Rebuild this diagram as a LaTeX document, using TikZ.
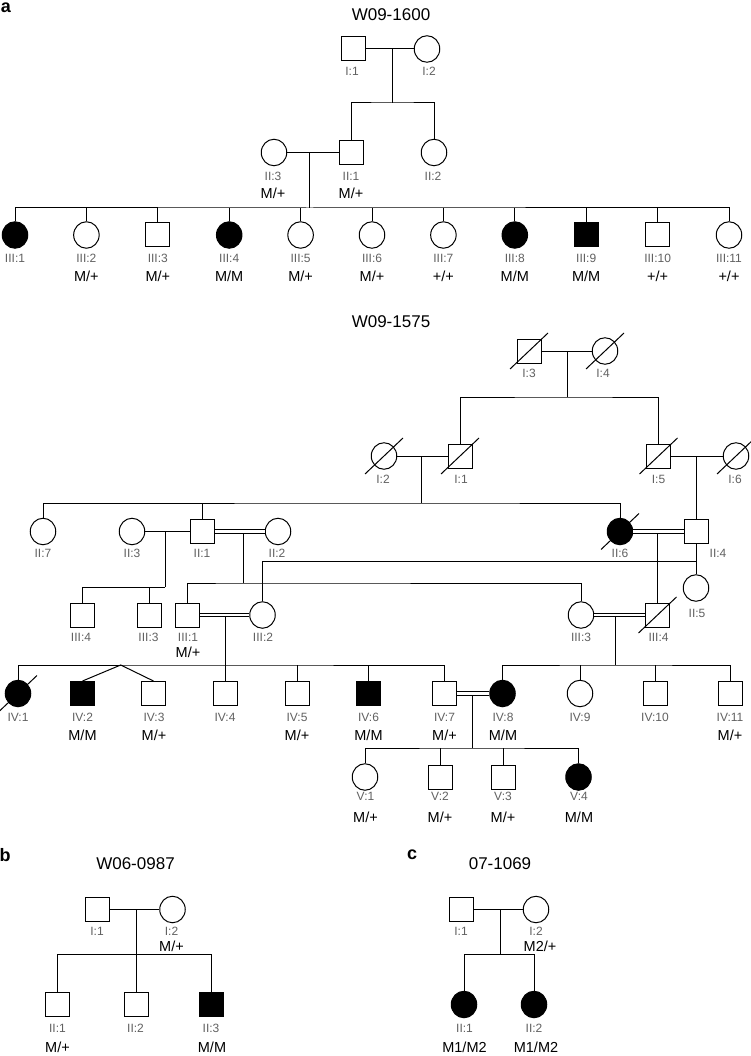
\documentclass[tikz,border=0pt]{standalone}
\usepackage{fontspec}
\setmainfont{Liberation Sans}
\usetikzlibrary{shapes.geometric}
\begin{document}
\begin{tikzpicture}[x=1pt,y=-1pt,
  every node/.style={inner sep=0pt},
  male/.style={draw, line width=1pt, minimum width=24pt, minimum height=24pt},
  female/.style={draw, line width=1pt, ellipse, minimum width=25.5pt, minimum height=26.5pt},
  aff/.style={fill=black},
  lbl/.style={font=\fontsize{12}{13}\selectfont, text=black!62, text height=8.6pt, text depth=0pt},
  geno/.style={font=\fontsize{14.5}{16}\selectfont, text height=10.4pt, text depth=0pt},
  ttl/.style={font=\fontsize{17}{20}\selectfont, text height=12.2pt, text depth=0pt},
  panel/.style={font=\fontsize{18}{20}\selectfont\bfseries},
  ln/.style={line width=1pt},
  cons/.style={double, double distance=2.9pt, line width=0.95pt}
]
\fill[white] (0,0) rectangle (751,1056);
\useasboundingbox (0,0) rectangle (751,1056);

% ================= Pedigree a : W09-1600 =================
\node[panel] (pa) at (6,8) {a};
\node[ttl] (ta) at (391,14) {W09-1600};
\node[male] (a-I1) at (353,49) {};
\node[female] (a-I2) at (427,49) {};
\node[lbl] (la-I1) at (352,71) {I:1};
\node[lbl] (la-I2) at (429,71) {I:2};
\node[female] (a-II3) at (274,152.5) {};
\node[male] (a-II1) at (351,152.5) {};
\node[female] (a-II2) at (434,152.5) {};
\node[lbl] (la-II3) at (273,176) {II:3};
\node[lbl] (la-II1) at (351,176) {II:1};
\node[lbl] (la-II2) at (433,176) {II:2};
\node[geno] (ga-II3) at (273,193) {M/+};
\node[geno] (ga-II1) at (351,193) {M/+};

\node[female,aff] (a-III1) at (15,235) {};
\node[female] (a-III2) at (86.4,235) {};
\node[male] (a-III3) at (157.8,235) {};
\node[female,aff] (a-III4) at (229.2,235) {};
\node[female] (a-III5) at (300.6,235) {};
\node[female] (a-III6) at (372,235) {};
\node[female] (a-III7) at (443.4,235) {};
\node[female,aff] (a-III8) at (514.8,235) {};
\node[male,aff] (a-III9) at (586.2,235) {};
\node[male] (a-III10) at (657.6,235) {};
\node[female] (a-III11) at (729,235) {};
\foreach \i/\x/\g in {1/15/{},2/86.4/{M/+},3/157.8/{M/+},4/229.2/{M/M},5/300.6/{M/+},6/372/{M/+},7/443.4/{+/+},8/514.8/{M/M},9/586.2/{M/M},10/657.6/{+/+},11/729/{+/+}}{
  \node[lbl] (la-III\i) at (\x,258) {III:\i};
  \node[geno] (ga-III\i) at (\x,276) {\g};
}

\draw[ln] (a-I1) -- (a-I2);
\coordinate (a-m1) at (392,49);
\coordinate (a-s1) at (392,103);
\draw[ln] (a-m1) -- (a-s1);
\draw[ln] (a-II1.north) |- (a-s1) -| (a-II2.north);
\draw[ln] (a-II3) -- (a-II1);
\coordinate (a-m2) at (309,152.5);
\coordinate (a-s2) at (309,208);
\draw[ln] (a-m2) -- (a-s2);
\draw[ln] (a-III1.north) |- (a-s2) -| (a-III11.north);
\foreach \i in {2,...,10}{\draw[ln] (a-III\i.north) -- (a-III\i.north |- a-s2);}

% ================= Pedigree W09-1575 =================
\node[ttl] (tq) at (391,321) {W09-1575};
\node[male] (q-I3) at (529,351) {};
\node[female] (q-I4) at (605,351) {};
\node[lbl] (lq-I3) at (529,373) {I:3};
\node[lbl] (lq-I4) at (603,373) {I:4};
\node[female] (q-I2) at (384,456) {};
\node[male] (q-I1) at (460,456) {};
\node[male] (q-I5) at (658.5,456) {};
\node[female] (q-I6) at (736,456) {};
\node[lbl] (lq-I2) at (383,479) {I:2};
\node[lbl] (lq-I1) at (461,479) {I:1};
\node[lbl] (lq-I5) at (658.5,479) {I:5};
\node[lbl] (lq-I6) at (735,479) {I:6};

\node[female] (q-II7) at (43,531.5) {};
\node[female] (q-II3) at (132,531.5) {};
\node[male] (q-II1) at (202,531.5) {};
\node[female] (q-II2) at (278,531.5) {};
\node[female,aff] (q-II6) at (620,531.5) {};
\node[male] (q-II4) at (696,531.5) {};
\node[female] (q-II5) at (696,588) {};
\node[lbl] (lq-II7) at (43,553) {II:7};
\node[lbl] (lq-II3) at (132,553) {II:3};
\node[lbl] (lq-II1) at (202,553) {II:1};
\node[lbl] (lq-II2) at (277,553) {II:2};
\node[lbl] (lq-II6) at (620,553) {II:6};
\node[lbl] (lq-II4) at (718,553) {II:4};
\node[lbl] (lq-II5) at (697,613) {II:5};

\node[male] (q-III4a) at (82,615) {};
\node[male] (q-III3a) at (149,615) {};
\node[male] (q-III1) at (187.5,615) {};
\node[female] (q-III2) at (262.5,615) {};
\node[female] (q-III3b) at (581,615) {};
\node[male] (q-III4b) at (657.5,615) {};
\node[lbl] (lq-III4a) at (81,637) {III:4};
\node[lbl] (lq-III3a) at (148.5,637) {III:3};
\node[lbl] (lq-III1) at (188,637) {III:1};
\node[lbl] (lq-III2) at (263,637) {III:2};
\node[lbl] (lq-III3b) at (581,637) {III:3};
\node[lbl] (lq-III4b) at (658.5,637) {III:4};
\node[geno] (gq-III1) at (188,652) {M/+};

\node[female,aff] (q-IV1) at (18,693.5) {};
\node[male,aff] (q-IV2) at (82.5,693.5) {};
\node[male] (q-IV3) at (153.5,693.5) {};
\node[male] (q-IV4) at (225,693.5) {};
\node[male] (q-IV5) at (297,693.5) {};
\node[male,aff] (q-IV6) at (368.5,693.5) {};
\node[male] (q-IV7) at (444,693.5) {};
\node[female,aff] (q-IV8) at (502.5,693.5) {};
\node[female] (q-IV9) at (580,693.5) {};
\node[male] (q-IV10) at (655,693.5) {};
\node[male] (q-IV11) at (730,693.5) {};
\foreach \i/\x/\g in {1/18/{},2/82.5/{M/M},3/154/{M/+},4/225/{},5/297/{M/+},6/368.5/{M/M},7/444.5/{M/+},8/503/{M/M},9/580/{},10/655/{},11/730/{M/+}}{
  \node[lbl] (lq-IV\i) at (\x,717) {IV:\i};
  \node[geno] (gq-IV\i) at (\x,735) {\g};
}

\node[female] (q-V1) at (365,777) {};
\node[male] (q-V2) at (440,777) {};
\node[male] (q-V3) at (503,777) {};
\node[female,aff] (q-V4) at (578.5,777) {};
\foreach \i/\x/\g in {1/365.5/{M/+},2/440/{M/+},3/503/{M/+},4/579/{M/M}}{
  \node[lbl] (lq-V\i) at (\x,796) {V:\i};
  \node[geno] (gq-V\i) at (\x,817) {\g};
}

% connectors
\draw[ln] (q-I3) -- (q-I4);
\coordinate (q-m1) at (567.5,351);
\coordinate (q-s1) at (567.5,397);
\draw[ln] (q-m1) -- (q-s1);
\draw[ln] (q-I1.north) |- (q-s1) -| (q-I5.north);
\draw[ln] (q-I2) -- (q-I1);
\draw[ln] (q-I5) -- (q-I6);
\coordinate (q-m2) at (421.5,456);
\coordinate (q-s2) at (421.5,503);
\draw[ln] (q-m2) -- (q-s2);
\draw[ln] (q-II7.north) |- (q-s2) -| (q-II6.north);
\draw[ln] (q-II1.north) -- (q-II1.north |- q-s2);
\coordinate (q-m3) at (696,456);
\draw[ln] (q-m3) -- (q-II4.north);
\draw[ln] (q-II4.south) -- (q-II5.north);
\coordinate (q-s5) at (696,561);
\draw[ln] (q-s5) -| (q-III2.north);

\draw[ln] (q-II3) -- (q-II1);
\coordinate (q-m4) at (165,531.5);
\coordinate (q-s3) at (165,587);
\draw[ln] (q-m4) -- (q-s3);
\draw[ln] (q-s3) -| (q-III4a.north);
\draw[ln] (q-III3a.north) -- (q-III3a.north |- q-s3);

\coordinate (q-m5) at (243,531.5);
\coordinate (q-s4) at (243,583);
\draw[ln] (q-m5) -- (q-s4);
\draw[ln] (q-III1.north) |- (q-s4) -| (q-III3b.north);
\draw[cons] (q-II1) -- (q-II2);

\coordinate (q-m6) at (657.5,531.5);
\draw[ln] (q-m6) -- (q-III4b.north);
\draw[cons] (q-II6) -- (q-II4);

\coordinate (q-m7) at (225,615);
\coordinate (q-s6) at (225,665);
\draw[ln] (q-m7) -- (q-s6);
\draw[cons] (q-III1) -- (q-III2);
\draw[ln] (q-IV1.north) |- (q-s6) -| (q-IV7.north);
\foreach \i in {4,5,6}{\draw[ln] (q-IV\i.north) -- (q-IV\i.north |- q-s6);}
\coordinate (q-tw) at (120.7,665);
\draw[ln] (q-IV2.north) -- (q-tw) -- (q-IV3.north);

\coordinate (q-m8) at (615.5,615);
\coordinate (q-s7) at (615.5,665);
\draw[ln] (q-m8) -- (q-s7);
\draw[cons] (q-III3b) -- (q-III4b);
\draw[ln] (q-IV8.north) |- (q-s7) -| (q-IV11.north);
\foreach \i in {9,10}{\draw[ln] (q-IV\i.north) -- (q-IV\i.north |- q-s7);}

\coordinate (q-m9) at (472,693.5);
\coordinate (q-s8) at (472,748);
\draw[ln] (q-m9) -- (q-s8);
\draw[cons] (q-IV7) -- (q-IV8);
\draw[ln] (q-V1.north) |- (q-s8) -| (q-V4.north);
\foreach \i in {2,3}{\draw[ln] (q-V\i.north) -- (q-V\i.north |- q-s8);}

% deceased
\foreach \n in {q-I3,q-I4,q-I2,q-I1,q-I5,q-I6,q-II6,q-III4b,q-IV1}{
  \draw[ln] ([shift={(-19,18)}]\n.center) -- ([shift={(19,-18)}]\n.center);
}

% ================= Pedigree b : W06-0987 =================
\node[panel] (pb) at (5,855) {b};
\node[ttl] (tb) at (135.5,863) {W06-0987};
\node[male] (b-I1) at (97,909.5) {};
\node[female] (b-I2) at (172.5,909.5) {};
\node[lbl] (lb-I1) at (97,931) {I:1};
\node[lbl] (lb-I2) at (171.5,931) {I:2};
\node[geno] (gb-I2) at (171.5,946) {M/+};
\node[male] (b-II1) at (57.5,1004) {};
\node[male] (b-II2) at (136.5,1004) {};
\node[male,aff] (b-II3) at (211,1004) {};
\node[lbl] (lb-II1) at (57.5,1028) {II:1};
\node[lbl] (lb-II2) at (135.5,1028) {II:2};
\node[lbl] (lb-II3) at (211,1028) {II:3};
\node[geno] (gb-II1) at (57.5,1047) {M/+};
\node[geno] (gb-II3) at (212,1047) {M/M};
\draw[ln] (b-I1) -- (b-I2);
\coordinate (b-m1) at (136.5,909.5);
\coordinate (b-s1) at (136.5,954);
\draw[ln] (b-m1) -- (b-II2.north);
\draw[ln] (b-II1.north) |- (b-s1) -| (b-II3.north);

% ================= Pedigree c : 07-1069 =================
\node[panel] (pc) at (412,855) {c};
\node[ttl] (tc) at (500,863) {07-1069};
\node[male] (c-I1) at (461,909.5) {};
\node[female] (c-I2) at (536,909.5) {};
\node[lbl] (lc-I1) at (461,931) {I:1};
\node[lbl] (lc-I2) at (536,931) {I:2};
\node[geno] (gc-I2) at (540,946) {M2/+};
\node[female,aff] (c-II1) at (464,1004.5) {};
\node[female,aff] (c-II2) at (534,1004.5) {};
\node[lbl] (lc-II1) at (464.5,1028) {II:1};
\node[lbl] (lc-II2) at (534,1028) {II:2};
\node[geno] (gc-II1) at (464.5,1047) {M1/M2};
\node[geno] (gc-II2) at (536,1047) {M1/M2};
\draw[ln] (c-I1) -- (c-I2);
\coordinate (c-m1) at (500.5,909.5);
\coordinate (c-s1) at (500.5,954);
\draw[ln] (c-m1) -- (c-s1);
\draw[ln] (c-II1.north) |- (c-s1) -| (c-II2.north);
\end{tikzpicture}
\end{document}
